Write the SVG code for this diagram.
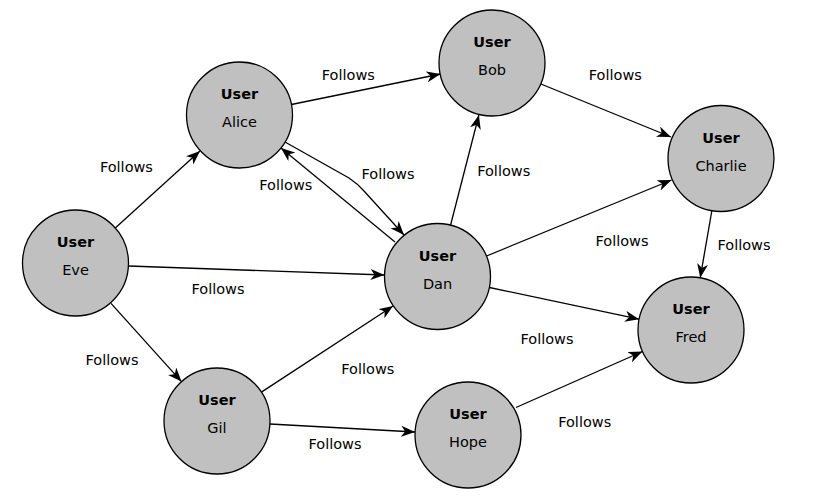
<svg xmlns="http://www.w3.org/2000/svg" width="824" height="502" viewBox="0 0 824 502">
<style>
.node circle{fill:#c0c0c0;stroke:#000;stroke-width:1.3}
text{font-family:"DejaVu Sans","Liberation Sans",sans-serif;font-size:14.5px;fill:#000;text-anchor:middle}
.t{font-weight:bold}
.e{fill:none;stroke:#000;stroke-width:1.3}
</style>
<defs>
<marker id="arr" markerUnits="userSpaceOnUse" markerWidth="16" markerHeight="12" refX="14" refY="5.5" orient="auto">
<path d="M0,0 L14,5.5 L0,11 L4,5.5 Z" fill="#000"/>
</marker>
</defs>
<rect width="824" height="502" fill="#fff"/>
<g id="connectors">
<line class="e" x1="114.7" y1="228.4" x2="200" y2="151" marker-end="url(#arr)"/>
<line class="e" x1="128.5" y1="266" x2="384.5" y2="275" marker-end="url(#arr)"/>
<line class="e" x1="111" y1="303.4" x2="181.5" y2="381.6" marker-end="url(#arr)"/>
<line class="e" x1="291.4" y1="104.5" x2="440.5" y2="74" marker-end="url(#arr)"/>
<path class="e" d="M285,142 L349,178 Q358,184 364,191 L404,235" marker-end="url(#arr)"/>
<line class="e" x1="395" y1="242" x2="281" y2="148" marker-end="url(#arr)"/>
<line class="e" x1="450.6" y1="225" x2="478.9" y2="115" marker-end="url(#arr)"/>
<line class="e" x1="486.5" y1="256" x2="671.5" y2="180" marker-end="url(#arr)"/>
<line class="e" x1="489.4" y1="287.5" x2="639" y2="319.2" marker-end="url(#arr)"/>
<line class="e" x1="540.9" y1="84" x2="671" y2="137" marker-end="url(#arr)"/>
<line class="e" x1="711.8" y1="211" x2="700.2" y2="277.8" marker-end="url(#arr)"/>
<line class="e" x1="261.4" y1="392.1" x2="393.1" y2="306" marker-end="url(#arr)"/>
<line class="e" x1="269.9" y1="424" x2="415.1" y2="432" marker-end="url(#arr)"/>
<line class="e" x1="516" y1="407.5" x2="642.5" y2="351.5" marker-end="url(#arr)"/>
<text x="126.4" y="172">Follows</text>
<text x="218" y="293.5">Follows</text>
<text x="112" y="364.5">Follows</text>
<text x="348.3" y="80">Follows</text>
<text x="388" y="179">Follows</text>
<text x="285.8" y="190">Follows</text>
<text x="503.7" y="176">Follows</text>
<text x="615.3" y="80">Follows</text>
<text x="622" y="245.5">Follows</text>
<text x="744" y="249.5">Follows</text>
<text x="547" y="344">Follows</text>
<text x="367.8" y="374">Follows</text>
<text x="335" y="448.5">Follows</text>
<text x="584.7" y="427">Follows</text>
</g>
<g id="alice" class="node"><circle cx="239.5" cy="115" r="53"/><text class="t" x="239.5" y="99">User</text><text x="239.5" y="127.3">Alice</text></g>
<g id="bob" class="node"><circle cx="492" cy="63" r="53"/><text class="t" x="492" y="47">User</text><text x="492" y="75.3">Bob</text></g>
<g id="charlie" class="node"><circle cx="721" cy="158.5" r="53"/><text class="t" x="721" y="142.5">User</text><text x="721" y="170.8">Charlie</text></g>
<g id="eve" class="node"><circle cx="75.5" cy="263" r="53"/><text class="t" x="75.5" y="247">User</text><text x="75.5" y="275.3">Eve</text></g>
<g id="dan" class="node"><circle cx="437.5" cy="276.5" r="53"/><text class="t" x="437.5" y="260.5">User</text><text x="437.5" y="288.8">Dan</text></g>
<g id="fred" class="node"><circle cx="691" cy="330" r="53"/><text class="t" x="691" y="314">User</text><text x="691" y="342.3">Fred</text></g>
<g id="gil" class="node"><circle cx="217" cy="421" r="53"/><text class="t" x="217" y="405">User</text><text x="217" y="433.3">Gil</text></g>
<g id="hope" class="node"><circle cx="468" cy="435" r="53"/><text class="t" x="468" y="419">User</text><text x="468" y="447.3">Hope</text></g>
</svg>
